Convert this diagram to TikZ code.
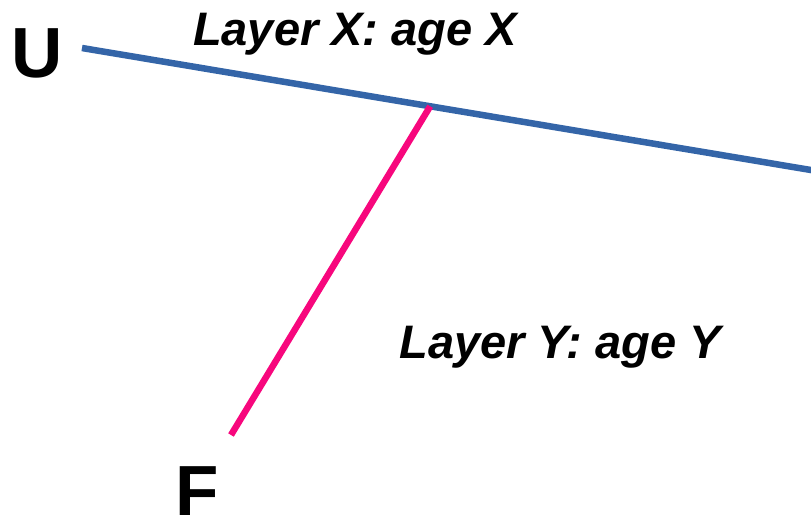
\documentclass[tikz,border=0pt]{standalone}
\usepackage{fontspec}
\setmainfont{Liberation Sans}
\usetikzlibrary{calc}
\definecolor{layerBlue}{HTML}{3465A8}
\definecolor{faultPink}{HTML}{F7077D}

\begin{document}
\begin{tikzpicture}[
  x=1pt, y=-1pt,
  endlabel/.style={inner sep=0pt, anchor=base, font=\fontsize{71}{71}\selectfont\bfseries},
  agelabel/.style={inner sep=0pt, anchor=base, font=\fontsize{47}{47}\selectfont\bfseries\itshape},
  layer/.style={line width=6.5pt, draw=layerBlue},
  fault/.style={line width=6.5pt, draw=faultPink}
]
\useasboundingbox (0,0) rectangle (811,521);

% end points
\coordinate (uEnd) at (82,48);
\coordinate (eastEnd) at (815,170.7);
\coordinate (junction) at ($(uEnd)!0.475!(eastEnd)$);
\coordinate (fEnd) at (231,435);

\node[endlabel] (U) at (37.5,78) {U};
\node[endlabel] (F) at (197,515) {F};
\node[agelabel] (ageX) at (355,46) {Layer X: age X};
\node[agelabel] (ageY) at (560,358) {Layer Y: age Y};

\draw[layer] (uEnd) -- (eastEnd);
\draw[fault] (junction) -- (fEnd);

\end{tikzpicture}
\end{document}
